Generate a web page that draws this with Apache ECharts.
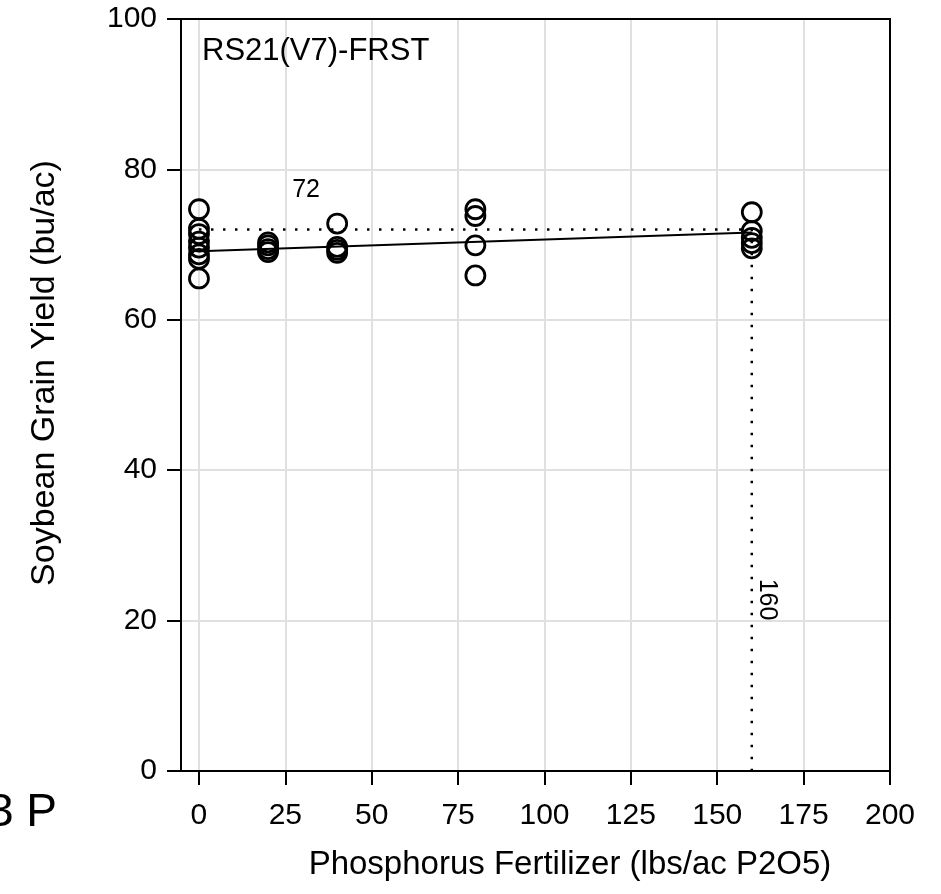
<!DOCTYPE html>
<html>
<head>
<meta charset="utf-8">
<script src="https://cdn.jsdelivr.net/npm/echarts@6/dist/echarts.min.js"></script>
<style>
html,body{margin:0;padding:0;background:#fff;}
#chart{width:941px;height:894px;}
</style>
</head>
<body>
<div id="chart"></div>
<script>
// ---- data ----
var xTicks = [0, 25, 50, 75, 100, 125, 150, 175, 200];
var yTicks = [0, 20, 40, 60, 80, 100];
var rate0   = [74.7, 72.1, 71.4, 70.4, 69.6, 68.7, 68.1, 65.5];
var rate20  = [70.3, 69.9, 69.4, 69.0];
var rate40  = [72.8, 69.7, 69.3, 68.9];
var rate80  = [74.7, 73.8, 69.9, 65.9];
var rate160 = [74.3, 71.8, 70.9, 70.2, 69.5];
var rates = [0, 20, 40, 80, 160];
var fitX = [0, 160];
var fitY = [69.1, 71.6];
var plateauYield = 72;
var plateauRate = 160;
var annotX = [31, 164.5];
var annotY = [77.2, 22.8];
var annotText = ['72', '160'];

var FONT = '"Liberation Sans", Arial, Helvetica, sans-serif';
var groups = [rate0, rate20, rate40, rate80, rate160];
var points = [];
groups.forEach(function (g, i) {
  g.forEach(function (v) { points.push([rates[i], v]); });
});

var G = { left: 181, right: 51, top: 19, bottom: 123 };
var W = 941, H = 894;

var chart = echarts.init(document.getElementById('chart'));
var graphics = [
  { type: 'rect', z: 100, silent: true,
    shape: { x: G.left, y: G.top, width: W - G.left - G.right, height: H - G.top - G.bottom },
    style: { fill: 'none', stroke: '#000', lineWidth: 2 } },
  { type: 'text', left: 202, top: 36, style: { text: 'RS21(V7)-FRST', fontSize: 31, fill: '#000', fontFamily: FONT } },
  { type: 'text', x: 45, y: 373, rotation: Math.PI / 2,
    style: { text: 'Soybean Grain Yield (bu/ac)', fontSize: 34, fill: '#000', fontFamily: FONT, textAlign: 'center', textVerticalAlign: 'middle' } },
  { type: 'text', x: 570, y: 865,
    style: { text: 'Phosphorus Fertilizer (lbs/ac P2O5)', fontSize: 33, fill: '#000', fontFamily: FONT, textAlign: 'center', textVerticalAlign: 'middle' } },
  { type: 'text', x: -12, y: 813,
    style: { text: '3 P', fontSize: 46, fill: '#000', fontFamily: FONT, textAlign: 'left', textVerticalAlign: 'middle' } }
];

chart.setOption({
  animation: false,
  backgroundColor: '#fff',
  grid: { left: G.left, right: G.right, top: G.top, bottom: G.bottom, show: false },
  xAxis: {
    type: 'value', min: -5.2, max: 200,
    axisLine: { show: false },
    axisTick: { show: true, customValues: xTicks, length: 14, lineStyle: { color: '#000', width: 2 } },
    axisLabel: { customValues: xTicks, fontSize: 30, color: '#000', margin: 30, fontFamily: FONT },
    splitLine: { show: true, lineStyle: { color: '#e0e0e0', width: 2 } }
  },
  yAxis: {
    type: 'value', min: 0, max: 100, interval: 20,
    axisLine: { show: false, onZero: false },
    axisTick: { show: true, length: 14, lineStyle: { color: '#000', width: 2 } },
    axisLabel: { fontSize: 30, color: '#000', margin: 24, fontFamily: FONT },
    splitLine: { show: true, lineStyle: { color: '#e0e0e0', width: 2 } }
  },
  series: [
    {
      type: 'line', data: [[0, plateauYield], [plateauRate, plateauYield], [plateauRate, 0]],
      symbol: 'none', silent: true,
      lineStyle: { color: '#000', width: 2.5, type: [2.5, 9.5] }, z: 2
    },
    {
      type: 'line', data: fitX.map(function (x, i) { return [x, fitY[i]]; }),
      symbol: 'none', silent: true,
      lineStyle: { color: '#000', width: 2 }, z: 3
    },
    {
      type: 'scatter', data: points, symbol: 'circle', symbolSize: 19, clip: false,
      itemStyle: { color: 'rgba(0,0,0,0)', borderColor: '#000', borderWidth: 2.8, opacity: 1 }, z: 4
    }
  ],
  graphic: graphics
});

// annotation labels placed through the chart's own scales
annotText.forEach(function (t, i) {
  var p = chart.convertToPixel({ gridIndex: 0 }, [annotX[i], annotY[i]]);
  graphics.push({
    type: 'text', x: p[0], y: p[1], z: 50,
    rotation: i === 1 ? -Math.PI / 2 : 0,
    style: { text: t, fontSize: 25, fill: '#000', fontFamily: FONT, textAlign: 'center', textVerticalAlign: 'middle' }
  });
});
chart.setOption({ graphic: graphics }, { replaceMerge: ['graphic'] });
</script>
</body>
</html>
